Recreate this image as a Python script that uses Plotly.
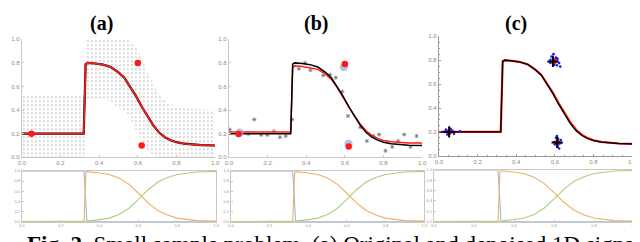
import plotly.graph_objects as go

# ---------------- data ----------------
sig_x = [0, 0.32, 0.33, 0.34, 0.38, 0.42, 0.46, 0.50, 0.53, 0.56, 0.59, 0.62, 0.65,
         0.68, 0.71, 0.74, 0.77, 0.80, 0.84, 0.88, 0.93, 1.0]
sig_true = [0.2, 0.2, 0.79, 0.80, 0.795, 0.785, 0.765, 0.72, 0.675, 0.60, 0.52, 0.43, 0.345,
            0.27, 0.21, 0.17, 0.145, 0.128, 0.115, 0.107, 0.103, 0.10]
sig_est_a = [0.2, 0.2, 0.79, 0.80, 0.795, 0.785, 0.765, 0.72, 0.675, 0.60, 0.52, 0.43, 0.345,
             0.27, 0.21, 0.17, 0.145, 0.128, 0.115, 0.107, 0.103, 0.10]
sig_est_b = [0.215, 0.215, 0.76, 0.775, 0.77, 0.76, 0.745, 0.705, 0.66, 0.59, 0.515, 0.43, 0.35,
             0.28, 0.225, 0.185, 0.16, 0.143, 0.132, 0.125, 0.12, 0.12]
sig_est_c = [0.2, 0.2, 0.79, 0.80, 0.795, 0.785, 0.765, 0.72, 0.677, 0.605, 0.527, 0.44, 0.355,
             0.28, 0.218, 0.175, 0.148, 0.13, 0.117, 0.108, 0.103, 0.10]

# noise cloud envelope (panel a)
noise_hi_x = [0, 0.325, 0.325, 0.55, 0.60, 0.65, 0.70, 0.75, 0.80, 1.0]
noise_hi = [0.52, 0.52, 1.0, 1.0, 0.92, 0.72, 0.56, 0.46, 0.42, 0.40]
noise_lo_x = [0, 0.325, 0.325, 0.45, 0.55, 0.60, 0.65, 0.70, 1.0]
noise_lo = [0.0, 0.0, 0.50, 0.48, 0.36, 0.20, 0.05, 0.0, 0.0]

# labeled points
lab_x = [0.05, 0.60, 0.62]
lab_y = [0.20, 0.80, 0.10]
lab_b_y = [0.198, 0.79, 0.092]

# panel b samples
samp_x = [0.004, 0.10, 0.131, 0.167, 0.199, 0.233, 0.264, 0.294, 0.327, 0.362, 0.394,
          0.422, 0.488, 0.524, 0.553, 0.587, 0.616, 0.68, 0.714, 0.748, 0.777, 0.81,
          0.845, 0.876, 0.907, 0.94, 0.971]
samp_y = [0.235, 0.198, 0.32, 0.19, 0.19, 0.22, 0.17, 0.18, 0.32, 0.75, 0.80,
          0.738, 0.694, 0.70, 0.675, 0.556, 0.35, 0.254, 0.138, 0.18, 0.193, 0.055,
          0.088, 0.138, 0.193, 0.088, 0.18]
est_b_x = [0.055, 0.595, 0.619]
est_b_y = [0.21, 0.766, 0.115]

# panel c clusters
clu_x = [0.027, 0.036, 0.070, 0.078, 0.109, 0.044, 0.061,
         0.593, 0.583, 0.577, 0.614, 0.622, 0.611, 0.628, 0.597, 0.577, 0.606,
         0.606, 0.617, 0.597, 0.628, 0.614, 0.622, 0.600, 0.631, 0.611]
clu_y = [0.20, 0.219, 0.211, 0.184, 0.206, 0.178, 0.227,
         0.851, 0.831, 0.804, 0.812, 0.777, 0.758, 0.747, 0.763, 0.777, 0.823,
         0.151, 0.143, 0.116, 0.105, 0.078, 0.061, 0.096, 0.132, 0.165]
cen_x = [0.053, 0.590, 0.612]
cen_y = [0.20, 0.79, 0.112]
lab_c_x = [0.053, 0.600, 0.614]
lab_c_y = [0.20, 0.796, 0.11]

# bottom membership curves
mem_x_blue = [0, 0.32, 0.335, 1.0]
mem_blue = [1.0, 1.0, 0.0, 0.0]
mem_x = [0, 0.32, 0.33, 0.335, 0.40, 0.45, 0.50, 0.55, 0.60, 0.65, 0.70, 0.75,
         0.80, 0.85, 0.90, 1.0]
mem_orange = [0, 0, 0.97, 0.985, 0.96, 0.93, 0.86, 0.74, 0.56, 0.37, 0.22, 0.13,
              0.07, 0.04, 0.02, 0.01]
mem_green = [0, 0, 0.0, 0.01, 0.04, 0.07, 0.14, 0.26, 0.44, 0.63, 0.78, 0.87,
             0.93, 0.96, 0.98, 0.99]

tick_vals = [0, 0.2, 0.4, 0.6, 0.8, 1.0]
tick_text = ["0.0", "0.2", "0.4", "0.6", "0.8", "1.0"]
titles = ["(a)", "(b)", "(c)"]
title_x = [91, 308, 511]
caption = "<b>Fig. 2.</b> Small sample problem. (a) Original and denoised 1D signal"

# ---------------- figure ----------------
W, H = 640, 242


def xd(l, r):
    return [l / W, r / W]


def yd(t, b):
    return [1 - b / H, 1 - t / H]


fig = go.Figure()

RED = "#ff1a1a"

# panel a
fig.add_trace(go.Scatter(
    x=noise_hi_x + noise_lo_x[::-1], y=noise_hi + noise_lo[::-1],
    fill="toself", mode="none", fillcolor="rgba(0,0,0,0)",
    fillpattern=dict(shape=".", fgcolor="#555555", bgcolor="rgba(0,0,0,0)",
                     size=4, solidity=0.1, fgopacity=0.6),
    xaxis="x", yaxis="y"))
fig.add_trace(go.Scatter(x=sig_x, y=sig_true, mode="lines",
                         line=dict(color="black", width=2.2), xaxis="x", yaxis="y"))
fig.add_trace(go.Scatter(x=sig_x, y=sig_est_a, mode="lines",
                         line=dict(color=RED, width=1.6), xaxis="x", yaxis="y"))
fig.add_trace(go.Scatter(x=lab_x, y=lab_y, mode="markers",
                         marker=dict(color=RED, size=6.5), xaxis="x", yaxis="y"))

# panel b
fig.add_trace(go.Scatter(x=samp_x, y=samp_y, mode="markers",
                         marker=dict(symbol="asterisk-open", size=3.5, color="#777777",
                                     line=dict(color="#777777", width=0.8)),
                         xaxis="x2", yaxis="y2"))
fig.add_trace(go.Scatter(x=sig_x, y=sig_est_b, mode="lines",
                         line=dict(color=RED, width=1.5), xaxis="x2", yaxis="y2"))
fig.add_trace(go.Scatter(x=sig_x, y=sig_true, mode="lines",
                         line=dict(color="black", width=1.5), xaxis="x2", yaxis="y2"))
fig.add_trace(go.Scatter(x=est_b_x, y=est_b_y, mode="markers",
                         marker=dict(color="rgba(150,175,220,0.75)", size=8),
                         xaxis="x2", yaxis="y2"))
fig.add_trace(go.Scatter(x=lab_x, y=lab_b_y, mode="markers",
                         marker=dict(color=RED, size=6.5), xaxis="x2", yaxis="y2"))

# panel c
fig.add_trace(go.Scatter(x=sig_x, y=sig_est_c, mode="lines",
                         line=dict(color=RED, width=2.2), xaxis="x3", yaxis="y3"))
fig.add_trace(go.Scatter(x=sig_x, y=sig_true, mode="lines",
                         line=dict(color="black", width=1.3), xaxis="x3", yaxis="y3"))
fig.add_trace(go.Scatter(x=lab_c_x, y=lab_c_y, mode="markers",
                         marker=dict(color=RED, size=6), xaxis="x3", yaxis="y3"))
fig.add_trace(go.Scatter(x=clu_x, y=clu_y, mode="markers",
                         marker=dict(color="#1a1aff", size=2.6), xaxis="x3", yaxis="y3"))
fig.add_trace(go.Scatter(x=cen_x, y=cen_y, mode="markers",
                         marker=dict(symbol="cross-thin-open", size=8, color="black",
                                     line=dict(color="black", width=2)),
                         xaxis="x3", yaxis="y3"))

# bottom panels
for k in (4, 5, 6):
    xa, ya = "x%d" % k, "y%d" % k
    fig.add_trace(go.Scatter(x=mem_x_blue, y=mem_blue, mode="lines",
                             line=dict(color="#9fb7dc", width=1.1), xaxis=xa, yaxis=ya))
    fig.add_trace(go.Scatter(x=mem_x, y=mem_orange, mode="lines",
                             line=dict(color="#eab263", width=1.1), xaxis=xa, yaxis=ya))
    fig.add_trace(go.Scatter(x=mem_x, y=mem_green, mode="lines",
                             line=dict(color="#b3cc7a", width=1.1), xaxis=xa, yaxis=ya))

TF = dict(family="Liberation Sans, Arial", size=6, color="#8a8a8a")
TFs = dict(family="Liberation Sans, Arial", size=4, color="#9a9a9a")


def ax(domain, anchor, font, line="#c8c8c8", minor=False, mirror=False):
    d = dict(domain=domain, anchor=anchor, range=[0, 1], showgrid=False, zeroline=False,
             tickmode="array", tickvals=tick_vals, ticktext=tick_text, tickfont=font,
             showline=True, linecolor=line, linewidth=1, ticks="inside", ticklen=2,
             tickcolor=line, mirror=mirror, fixedrange=True)
    if minor:
        d["minor"] = dict(dtick=0.05, ticks="inside", ticklen=1, tickcolor=line)
    return d


layout = dict(
    width=W, height=H, margin=dict(l=0, r=0, t=0, b=0),
    paper_bgcolor="white", plot_bgcolor="white", showlegend=False,
    xaxis=ax(xd(10, 206), "y", TF),
    yaxis=ax(yd(29, 150), "x", TF),
    xaxis2=ax(xd(220, 416), "y2", TF),
    yaxis2=ax(yd(29, 150), "x2", TF),
    xaxis3=ax(xd(433, 629), "y3", TF, line="#9a9a9a", minor=True),
    yaxis3=ax(yd(26, 148.5), "x3", TF, line="#9a9a9a", minor=True),
    xaxis4=ax(xd(10, 207), "y4", TFs, mirror=True),
    yaxis4=ax(yd(164, 216), "x4", TFs, mirror=True),
    xaxis5=ax(xd(222, 418), "y5", TFs, mirror=True),
    yaxis5=ax(yd(164, 216), "x5", TFs, mirror=True),
    xaxis6=ax(xd(428, 631), "y6", TFs, mirror=True),
    yaxis6=ax(yd(163, 216), "x6", TFs, mirror=True),
)
fig.update_layout(**layout)

anns = []
for t, cx in zip(titles, title_x):
    anns.append(dict(text="<b>%s</b>" % t, x=cx / W, y=1 - 13 / H, xref="paper", yref="paper",
                     xanchor="center", yanchor="middle", showarrow=False,
                     font=dict(family="Liberation Serif, Times New Roman", size=20, color="black")))
anns.append(dict(text=caption, x=13 / W, y=1 - 239 / H, xref="paper", yref="paper",
                 xanchor="left", yanchor="middle", showarrow=False,
                 font=dict(family="Liberation Serif, Times New Roman", size=23, color="black")))
fig.update_layout(annotations=anns)

fig.write_html("out.html")
